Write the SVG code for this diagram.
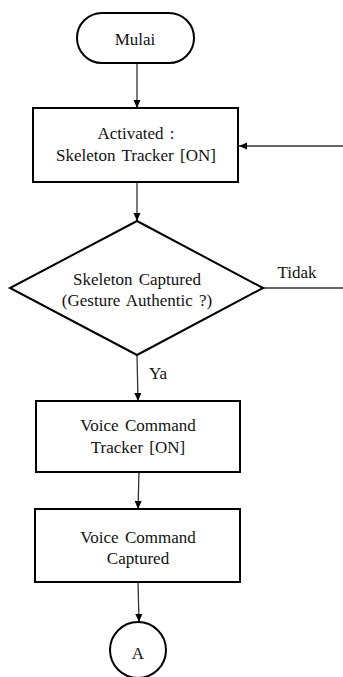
<svg xmlns="http://www.w3.org/2000/svg" width="343" height="677" viewBox="0 0 343 677">
<style>
.s{fill:#fff;stroke:#000;stroke-width:2}
.c{fill:none;stroke:#333;stroke-width:1.3}
text{font-family:"Liberation Serif","Times New Roman",serif;font-size:17px;fill:#111;text-anchor:middle;word-spacing:2px}
</style>
<defs>
<marker id="ah" markerWidth="10" markerHeight="10" refX="9" refY="5" orient="auto" markerUnits="userSpaceOnUse">
<path d="M1,1.5 L9,5 L1,8.5 Z" fill="#000"/>
</marker>
</defs>
<g id="connectors">
<line class="c" x1="137" y1="63" x2="137" y2="108" marker-end="url(#ah)"/>
<line class="c" x1="137" y1="182" x2="137" y2="221" marker-end="url(#ah)"/>
<line class="c" x1="263" y1="288" x2="343" y2="288"/>
<line class="c" x1="343" y1="146" x2="239" y2="146" marker-end="url(#ah)"/>
<line class="c" x1="137" y1="355" x2="138" y2="401" marker-end="url(#ah)"/>
<line class="c" x1="139" y1="472" x2="138" y2="509" marker-end="url(#ah)"/>
<line class="c" x1="138" y1="582" x2="139" y2="622" marker-end="url(#ah)"/>
<text x="297" y="278">Tidak</text>
<text x="158" y="379">Ya</text>
</g>
<g id="mulai">
<rect class="s" x="77" y="13" width="117" height="50" rx="25" ry="25"/>
<text x="135" y="45">Mulai</text>
</g>
<g id="activated">
<rect class="s" x="33" y="108" width="205" height="74"/>
<text x="136" y="139">Activated :</text>
<text x="136" y="161">Skeleton Tracker [ON]</text>
</g>
<g id="decision">
<polygon class="s" points="137,221 263,288 137,355 10,288"/>
<text x="137" y="285">Skeleton Captured</text>
<text x="137" y="306">(Gesture Authentic ?)</text>
</g>
<g id="voice-tracker">
<rect class="s" x="36" y="401" width="204" height="71"/>
<text x="138" y="431">Voice Command</text>
<text x="138" y="453">Tracker [ON]</text>
</g>
<g id="voice-captured">
<rect class="s" x="35" y="509" width="205" height="73"/>
<text x="138" y="543">Voice Command</text>
<text x="138" y="564">Captured</text>
</g>
<g id="connector-a">
<circle class="s" cx="138" cy="650" r="28"/>
<text x="138" y="659">A</text>
</g>
</svg>
